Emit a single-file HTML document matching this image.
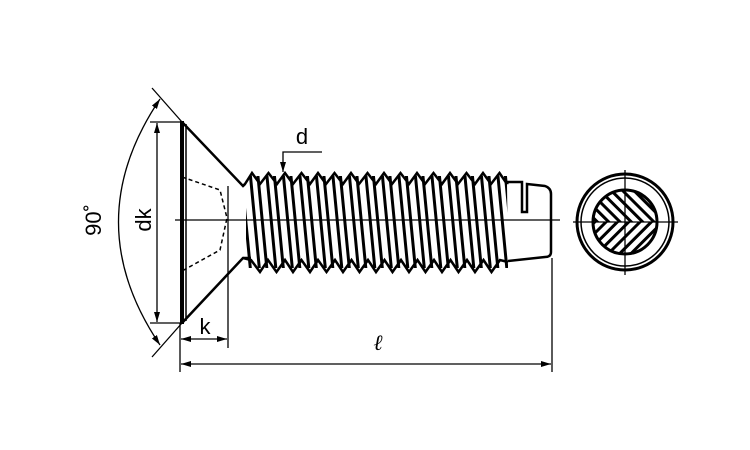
<!DOCTYPE html>
<html><head><style>html,body{margin:0;padding:0;background:#fff}svg{display:block}</style></head>
<body>
<svg width="750" height="450" viewBox="0 0 750 450" xmlns="http://www.w3.org/2000/svg" font-family="Liberation Sans, sans-serif">
<defs>
<marker id="a" viewBox="0 0 10 6" refX="10" refY="3" markerWidth="10" markerHeight="6" orient="auto-start-reverse" markerUnits="userSpaceOnUse"><path d="M0,0 L10,3 L0,6 z" fill="#000"/></marker>
<pattern id="thr" width="16.5" height="100" patternUnits="userSpaceOnUse" patternTransform="translate(1,0) skewX(5.5)">
<rect x="0" y="0" width="3" height="100" fill="#000"/><rect x="7.5" y="0" width="3" height="100" fill="#000"/>
</pattern>
<pattern id="h1" width="8" height="8" patternUnits="userSpaceOnUse" patternTransform="rotate(45)"><rect width="3" height="8" fill="#000"/></pattern>
<pattern id="h2" width="8" height="8" patternUnits="userSpaceOnUse" patternTransform="rotate(-45)"><rect width="3" height="8" fill="#000"/></pattern>
<clipPath id="cb"><rect x="246" y="176" width="262" height="92"/></clipPath>
<clipPath id="ct"><rect x="590" y="180" width="70" height="42"/></clipPath>
<clipPath id="cbt"><rect x="590" y="222" width="70" height="42"/></clipPath>
</defs>
<g stroke="#000" fill="none">
<rect x="246" y="176" width="262" height="92" fill="url(#thr)" stroke="none" clip-path="url(#cb)"/>
<polyline stroke-width="2.5" points="243,186 245,184 252,173 260,184 268.5,173 277,184 285,173 293,184 301.5,173 310,184 318,173 326,184 334.5,173 343,184 351,173 359,184 367.5,173 376,184 384,173 392,184 400.5,173 409,184 417,173 425,184 433.5,173 442,184 450,173 458,184 466.5,173 475,184 483,173 491,184 499.5,173 507,184"/>
<polyline stroke-width="2.5" points="243,258 251,260 260,272 268,260 276.5,272 285,260 293,272 301.5,260 310,272 318,260 326.5,272 335,260 343,272 351.5,260 359.5,272 368,260 376,272 384.5,260 392.5,272 401,260 409,272 417.5,260 425.5,272 434,260 442,272 450.5,260 458.5,272 467,260 475,272 483.5,260 491.5,272 500,260 508,262"/>
<path d="M507,184 L508,182 L522,182 L522,212 L527,212 L527,184 L545,186 Q551,188 551,194 L551,252 Q551,257 545,257 L508,261" stroke-width="2.5" fill="#fff"/>
<line x1="182" y1="121" x2="182" y2="324" stroke-width="4"/>
<line x1="186" y1="124" x2="186" y2="321" stroke-width="1.5"/>
<path d="M182,122 L243,186 L245,184" stroke-width="2.5"/>
<path d="M182,323 L243,258 L251,258" stroke-width="2.5"/>
<line x1="228" y1="186" x2="228" y2="348" stroke-width="1.3"/>
<path d="M182,177 L220,190 L227,218 L220,250 L182,271" stroke-width="1.5" stroke-dasharray="4,3"/>
<line x1="175" y1="220" x2="560" y2="220" stroke-width="1.3"/>
<line x1="150" y1="122" x2="182" y2="122" stroke-width="1.3"/>
<line x1="150" y1="323" x2="182" y2="323" stroke-width="1.3"/>
<line x1="157" y1="123" x2="157" y2="322" stroke-width="1.3" marker-start="url(#a)" marker-end="url(#a)"/>
<line x1="152" y1="88" x2="182" y2="122" stroke-width="1.3"/>
<line x1="152" y1="357" x2="182" y2="323" stroke-width="1.3"/>
<path d="M160,99 Q77,222 160,345" stroke-width="1.3" marker-start="url(#a)" marker-end="url(#a)"/>
<line x1="180" y1="323" x2="180" y2="372" stroke-width="1.3"/>
<line x1="181" y1="339" x2="227" y2="339" stroke-width="1.3" marker-start="url(#a)" marker-end="url(#a)"/>
<line x1="552" y1="258" x2="552" y2="372" stroke-width="1.3"/>
<line x1="181" y1="364" x2="551" y2="364" stroke-width="1.3" marker-start="url(#a)" marker-end="url(#a)"/>
<path d="M322,152 L283,152 L283,172" stroke-width="1.3" marker-end="url(#a)"/>
<circle cx="625" cy="222" r="48" stroke-width="3"/>
<circle cx="625" cy="222" r="44" stroke-width="1.5"/>
<circle cx="625" cy="222" r="32" fill="#fff" stroke-width="3"/>
<g clip-path="url(#ct)"><circle cx="625" cy="222" r="31" fill="url(#h2)" stroke="none"/></g>
<g clip-path="url(#cbt)"><circle cx="625" cy="222" r="31" fill="url(#h1)" stroke="none"/></g>
<line x1="573" y1="222" x2="678" y2="222" stroke-width="1.3"/>
<line x1="625" y1="170" x2="625" y2="275" stroke-width="1.3"/>
</g>
<g font-size="22" fill="#000">
<text x="302" y="144" text-anchor="middle">d</text>
<text x="205" y="334" text-anchor="middle">k</text>
<text x="378" y="350" text-anchor="middle" font-style="italic" font-family="Liberation Serif, serif">ℓ</text>
<text transform="translate(151,220) rotate(-90)" text-anchor="middle">dk</text>
<text transform="translate(101,220) rotate(-90)" text-anchor="middle">90˚</text>
</g>
</svg>
</body></html>
